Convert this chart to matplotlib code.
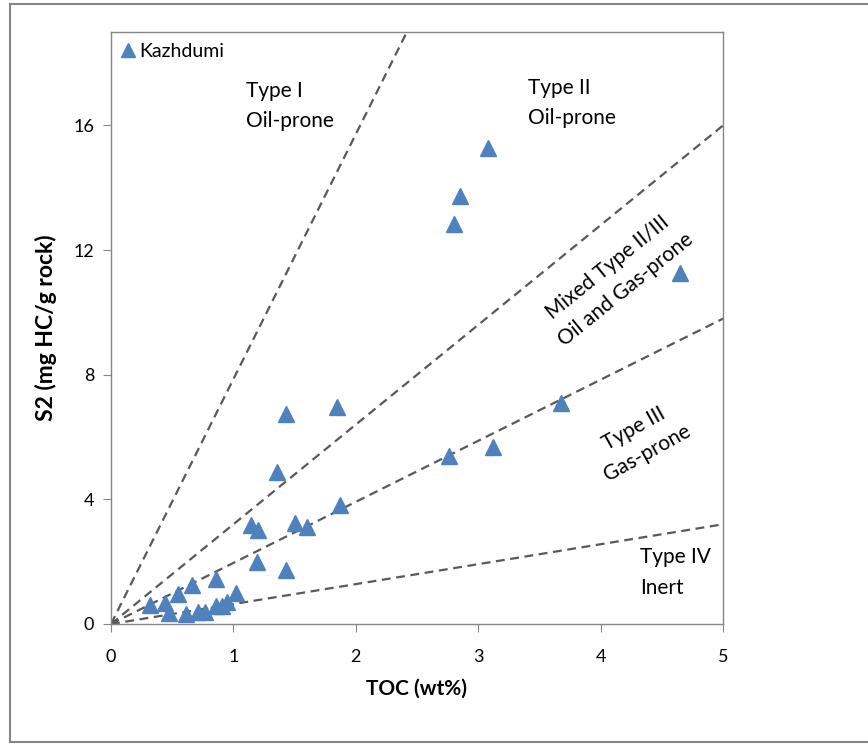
import matplotlib
matplotlib.use("Agg")
import matplotlib.pyplot as plt
from matplotlib.lines import Line2D
import numpy as np

plt.rcParams['font.family'] = ['Lato', 'DejaVu Sans']

# Data: TOC (wt%) and S2 (mg HC/g rock)
toc = [3.08, 2.85, 2.80, 4.65, 3.68, 1.85, 1.43, 1.36, 2.76, 3.12, 1.87,
       1.14, 1.20, 1.50, 1.60, 1.19, 1.43,
       0.32, 0.44, 0.47, 0.55, 0.66, 0.86, 0.61, 0.71, 0.77, 0.86, 0.91, 0.95, 1.02]
s2 = [15.28, 13.73, 12.85, 11.26, 7.10, 6.96, 6.73, 4.87, 5.39, 5.67, 3.82,
      3.17, 3.01, 3.25, 3.11, 2.00, 1.73,
      0.61, 0.68, 0.35, 0.95, 1.25, 1.45, 0.32, 0.38, 0.39, 0.58, 0.58, 0.72, 1.00]

# Boundary line slopes (S2 per unit TOC)
slopes = [7.86, 3.2, 1.96, 0.64]

x_ticks = [0, 1, 2, 3, 4, 5]
y_ticks = [0, 4, 8, 12, 16]

fig = plt.figure(figsize=(8.68, 7.46), dpi=100)
ax = fig.add_axes([111/868, 1-624/746, (723-111)/868, (624-32)/746])

ax.set_xlim(0, 5)
ax.set_ylim(0, 19)

xs = np.array([0, 5.0])
for s in slopes:
    ax.plot(xs, s*xs, linestyle=(0, (4, 2.5)), color='#595959', lw=1.6, zorder=2)

ax.plot(toc, s2, linestyle='none', marker='^', ms=11.5, color='#4F81BD',
        markeredgecolor='#4F81BD', zorder=3)

ax.set_xticks(x_ticks)
ax.set_yticks(y_ticks)
ax.tick_params(direction='out', length=6, color='#868686', labelsize=13,
               labelcolor='#000000')
ax.tick_params(axis='x', pad=12)
ax.tick_params(axis='y', pad=6)
for sp in ax.spines.values():
    sp.set_color('#868686')
    sp.set_linewidth(1.0)

ax.set_xlabel('TOC (wt%)', fontsize=15, fontweight='bold', labelpad=10)
ax.set_ylabel('S2 (mg HC/g rock)', fontsize=16.5, fontweight='bold', labelpad=12)

tkw = dict(fontsize=15, color='#000000')
ax.text(1.10, 16.62, 'Type I\nOil-prone', ha='left', va='center', linespacing=1.65, **tkw)
ax.text(3.41, 16.72, 'Type II\nOil-prone', ha='left', va='center', linespacing=1.65, **tkw)
ax.text(4.13, 11.09, 'Mixed Type II/III\nOil and Gas-prone', ha='center', va='center',
        rotation=39, rotation_mode='anchor', multialignment='center', linespacing=1.55, **tkw)
ax.text(4.33, 5.88, 'Type III\nGas-prone', ha='center', va='center',
        rotation=29, rotation_mode='anchor', multialignment='center', linespacing=1.45, **tkw)
ax.text(4.32, 1.65, 'Type IV\nInert', ha='left', va='center', linespacing=1.65, **tkw)

handle = Line2D([], [], linestyle='none', marker='^', ms=10, color='#4F81BD')
ax.legend([handle], ['Kazhdumi'], loc='upper left', frameon=False, fontsize=14,
          handlelength=0.6, handletextpad=0.3, borderaxespad=0.15,
          bbox_to_anchor=(0.0, 1.0))

# outer chart border (top, left, bottom)
fig.add_artist(Line2D([10/868, 1.0], [1-4/746, 1-4/746], color='#868686', lw=1.5))
fig.add_artist(Line2D([10/868, 10/868], [1-4/746, 1-742/746], color='#868686', lw=1.5))
fig.add_artist(Line2D([10/868, 1.0], [1-742/746, 1-742/746], color='#868686', lw=1.5))

fig.savefig('out.png', dpi=100)
